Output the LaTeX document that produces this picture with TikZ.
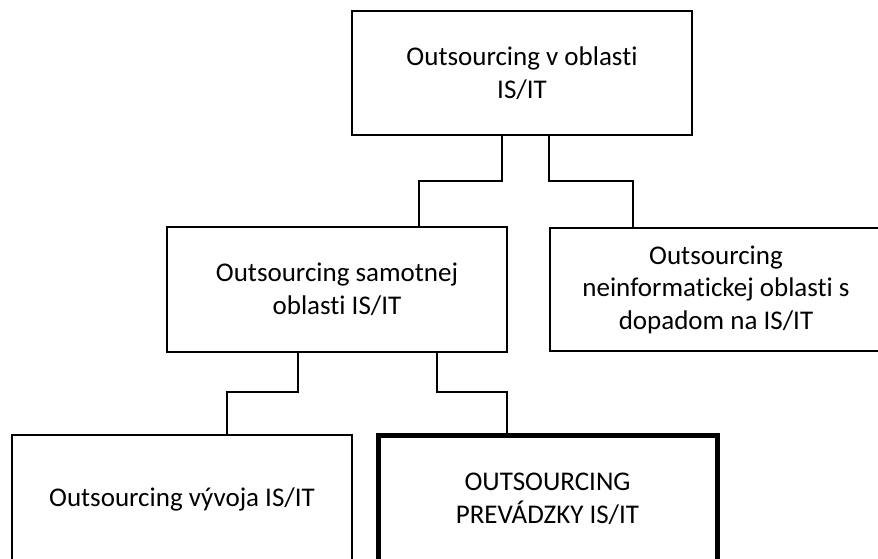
\documentclass[tikz,border=0pt]{standalone}
\usepackage{fontspec}
\setmainfont[RawFeature=-liga]{Carlito}
\begin{document}
\begin{tikzpicture}[x=1pt,y=-1pt,
  box/.style={draw, line width=2.8pt, inner sep=0pt, align=center,
    font=\fontsize{27}{32.5}\selectfont},
  keybox/.style={box, line width=5pt},
  link/.style={draw, line width=2.8pt, line join=miter}]
  \useasboundingbox (0,0) rectangle (878,558);
  \fill[white] (0,0) rectangle (878,558);
  \clip (0,0) rectangle (878,558);

  % organisation boxes
  \node[box, minimum width=340pt, minimum height=124pt] (top) at (522,73)
    {Outsourcing v oblasti\\IS/IT};
  \node[box, minimum width=340pt, minimum height=125pt] (own) at (337,289.5)
    {Outsourcing samotnej\\oblasti IS/IT};
  \node[box, minimum width=332pt, minimum height=123pt] (other) at (716,289.5)
    {Outsourcing\\neinformatickej oblasti s\\dopadom na IS/IT};
  \node[box, minimum width=340pt, minimum height=128pt] (dev) at (182,499)
    {Outsourcing vývoja IS/IT};
  \node[keybox, minimum width=339pt, minimum height=128pt] (ops) at (547.5,499)
    {OUTSOURCING\\PREVÁDZKY IS/IT};

  % elbow connectors
  \draw[link] (top.south -| 502,0) |- (419,181) -- (419,0 |- own.north);
  \draw[link] (top.south -| 549,0) |- (633,181) -- (633,0 |- other.north);
  \draw[link] (own.south -| 298,0) |- (227,392) -- (227,0 |- dev.north);
  \draw[link] (own.south -| 437,0) |- (507,392) -- (507,0 |- ops.north);
\end{tikzpicture}
\end{document}
